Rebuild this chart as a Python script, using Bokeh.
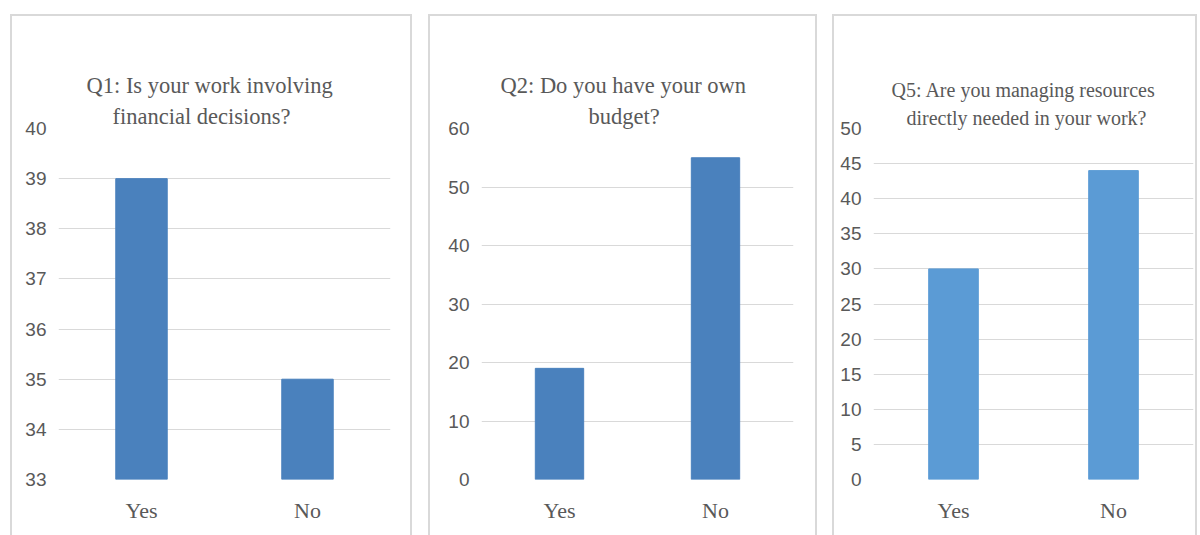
from bokeh.plotting import figure
from bokeh.layouts import row
from bokeh.models import Range1d, FixedTicker, ColumnDataSource, Title, LinearAxis
from bokeh.embed import file_html
from bokeh.resources import INLINE

categories = ["Yes", "No"]
q1_values = [39, 35]
q2_values = [19, 55]
q5_values = [30, 44]
q1_ticks = [33, 34, 35, 36, 37, 38, 39, 40]
q2_ticks = [0, 10, 20, 30, 40, 50, 60]
q5_ticks = [0, 5, 10, 15, 20, 25, 30, 35, 40, 45, 50]
q1_title = ["Q1: Is your work involving", "financial decisions?"]
q2_title = ["Q2: Do you have your own", "budget?"]
q5_title = ["Q5: Are you managing resources", "directly needed in your work?"]

GRID = "#d9d9d9"
TXT = "#595959"
SERIF = "Liberation Serif"
SANS = "Liberation Sans Narrow, Liberation Sans"


def panel(title_lines, values, ticks, color, width, margin, mb_left, mb_right,
          title_offsets, title_size, line_gap, title_space):
    ymin, ymax = ticks[0], ticks[-1]
    p = figure(x_range=categories, y_range=Range1d(ymin, ymax), width=width, height=521,
               output_backend="svg", toolbar_location=None, margin=margin,
               min_border_left=mb_left, min_border_right=mb_right,
               min_border_top=114, min_border_bottom=56,
               styles={"box-shadow": "inset 2px 2px 0 %s, inset -2px 0 0 %s" % (GRID, GRID)})
    p.title.visible = False
    src = ColumnDataSource(dict(cat=categories, val=values, base=[ymin] * len(values)))
    p.vbar(x="cat", top="val", bottom="base", width=0.31, source=src,
           fill_color=color, line_color=color)
    p.border_fill_color = None
    p.background_fill_color = "white"
    p.outline_line_color = None
    p.xgrid.grid_line_color = None
    p.ygrid.grid_line_color = GRID
    p.ygrid.grid_line_width = 1
    p.yaxis.ticker = FixedTicker(ticks=ticks)
    p.ygrid.ticker = FixedTicker(ticks=ticks)
    for ax in (p.xaxis[0], p.yaxis[0]):
        ax.axis_line_color = None
        ax.major_tick_line_color = None
        ax.minor_tick_line_color = None
        ax.major_tick_out = 0
        ax.major_tick_in = 0
        ax.major_label_text_color = TXT
    p.yaxis.major_label_text_font = SANS
    p.yaxis.major_label_text_font_size = "19px"
    p.yaxis.major_label_standoff = 12
    p.xaxis.major_label_text_font = SERIF
    p.xaxis.major_label_text_font_size = "22px"
    p.xaxis.major_label_standoff = 18
    # empty (tick-less, label-less) axis used only as a gap between title and frame
    spacer = LinearAxis(ticker=FixedTicker(ticks=[]), axis_line_color=None,
                        major_tick_line_color=None, minor_tick_line_color=None,
                        major_tick_out=title_space, major_tick_in=0, minor_tick_out=0,
                        minor_tick_in=0, major_label_standoff=0)
    p.add_layout(spacer, "above")
    standoffs = [line_gap, 0]
    for line, so, off in zip(reversed(title_lines), reversed(standoffs), reversed(title_offsets)):
        t = Title(text=line, align="left", text_font=SERIF, text_font_size=title_size,
                  text_font_style="normal", text_color=TXT, offset=off, standoff=so)
        p.add_layout(t, "above")
    return p


p1 = panel(q1_title, q1_values, q1_ticks, "#4a81bd", 402, (14, 0, 0, 10), 48, 22,
           [28, 54], "22.5px", 7, 34)
p2 = panel(q2_title, q2_values, q2_ticks, "#4a81bd", 389, (14, 0, 0, 16), 53, 24,
           [19, 107], "22.5px", 7, 34)
p3 = panel(q5_title, q5_values, q5_ticks, "#5b9bd5", 365, (14, 0, 0, 15), 41, 4,
           [18, 33], "20px", 8, 37)

layout = row(p1, p2, p3)
open("out.html", "w").write(file_html(layout, INLINE))
